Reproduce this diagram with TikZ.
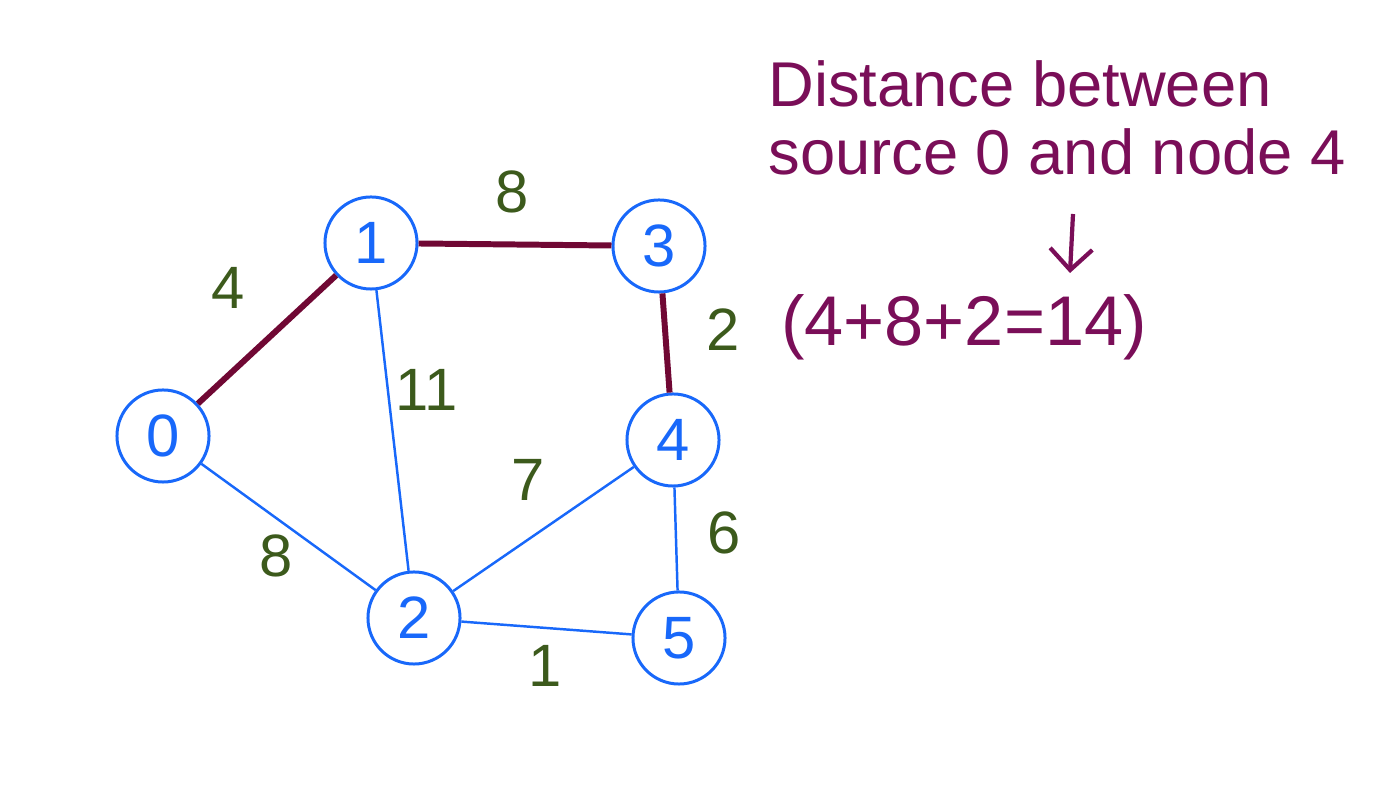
\documentclass[tikz,border=0pt]{standalone}
\usepackage{fontspec}
\setmainfont{Liberation Sans}
\usetikzlibrary{arrows.meta}
\definecolor{nodeblue}{RGB}{24,104,250}
\definecolor{pathred}{RGB}{112,8,52}
\definecolor{notepurple}{RGB}{122,14,88}
\definecolor{weightgreen}{RGB}{60,90,28}
\tikzset{
    vertex/.style={circle, draw=nodeblue, line width=0.85pt, minimum size=0.92cm, inner sep=0pt, text=nodeblue, font=\fontsize{17}{17}\selectfont},
    plain edge/.style={draw=nodeblue, line width=0.7pt},
    short edge/.style={draw=pathred, line width=1.7pt},
    weight/.style={text=weightgreen, font=\fontsize{17}{17}\selectfont},
    note/.style={text=notepurple, font=\fontsize{18}{19.5}\selectfont}
}
\begin{document}
\begin{tikzpicture}[x=0.01cm, y=-0.01cm]
                \useasboundingbox (0,0) rectangle (1373,798);
                \node[vertex] (n0) at (163,436) {0};
                \node[vertex] (n1) at (371,243) {1};
                \node[vertex] (n2) at (414,618) {2};
                \node[vertex] (n3) at (659,246) {3};
                \node[vertex] (n4) at (673,440) {4};
                \node[vertex] (n5) at (679,638) {5};
                \draw[short edge] (n0) -- (n1);
                \draw[short edge] (n1) -- (n3);
                \draw[short edge] (n3) -- (n4);
                \draw[plain edge] (n1) -- (n2);
                \draw[plain edge] (n0) -- (n2);
                \draw[plain edge] (n2) -- (n4);
                \draw[plain edge] (n2) -- (n5);
                \draw[plain edge] (n4) -- (n5);
                \node[weight] (w01) at (228,288) {4};
                \node[weight] (w13) at (512,192) {8};
                \node[weight] (w12) at (427,390) {11};
                \node[weight] (w02) at (276,556) {8};
                \node[weight] (w24) at (528,480) {7};
                \node[weight] (w34) at (723,330) {2};
                \node[weight] (w45) at (724,533) {6};
                \node[weight] (w25) at (545,666) {1};
                \node[note, align=left, anchor=north west] (title) at (756,48) {Distance between\\source 0 and node 4};
                \node[note, font=\fontsize{20}{20}\selectfont] (sum) at (964,327) {(4+8+2=14)};
                \coordinate (arrtop) at (1073,214);
                \coordinate (arrtip) at (1070,273);
                \draw[draw=notepurple, line width=1.2pt, -{Straight Barb[length=6pt, width=12pt]}] (arrtop) -- (arrtip);
            \end{tikzpicture}
\end{document}
